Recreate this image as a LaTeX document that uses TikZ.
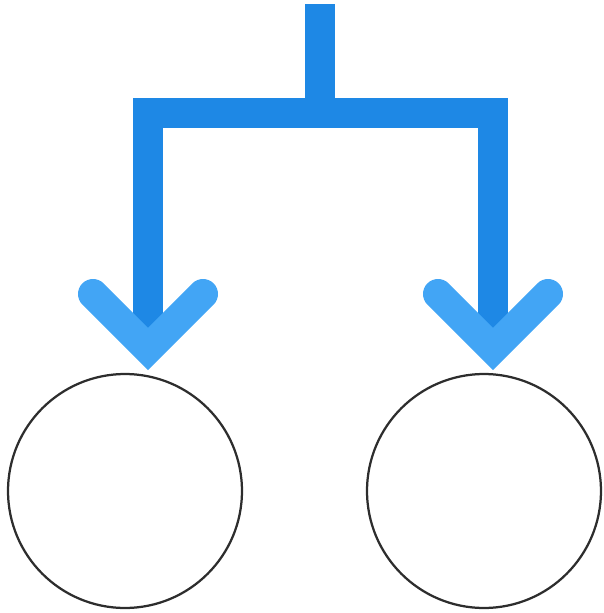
\documentclass[tikz,border=0pt]{standalone}
\definecolor{stemblue}{RGB}{30,136,229}
\definecolor{tipblue}{RGB}{66,165,245}
\definecolor{ringgray}{RGB}{45,45,45}
\begin{document}
\begin{tikzpicture}[x=0.02cm,y=-0.02cm,
  stem/.style={stemblue,line width=0.6cm,line join=miter},
  chevron/.style={tipblue,line width=0.6cm,line cap=round,line join=miter},
  ring/.style={circle,draw=ringgray,line width=0.045cm,minimum size=4.68cm,inner sep=0pt}]
 \useasboundingbox (0,0) rectangle (603,613);
 \node[ring] (lball) at (125,491) {};
 \node[ring] (rball) at (484,491) {};
 \coordinate (top) at (320,4);
 \coordinate (fork) at (320,113);
 \coordinate (lend) at (148,330);
 \coordinate (rend) at (493,330);
 \draw[stem] (lend) |- (fork) -| (rend);
 \draw[stem] (top) -- (fork);
 \draw[chevron] (93,294)--(148,349)--(203,294);
 \draw[chevron] (438,294)--(493,349)--(548,294);
\end{tikzpicture}
\end{document}
